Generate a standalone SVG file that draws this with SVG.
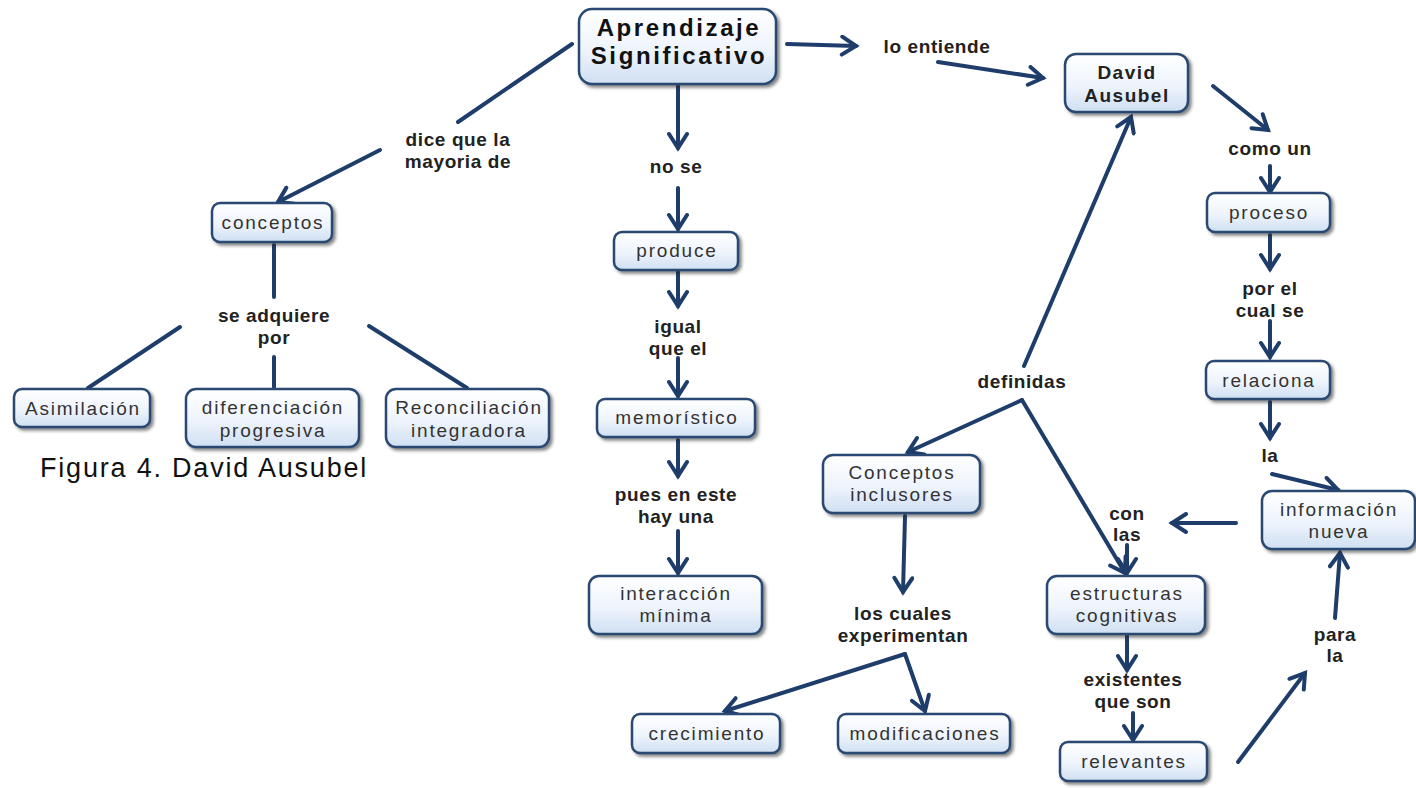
<svg xmlns="http://www.w3.org/2000/svg" width="1416" height="788" viewBox="0 0 1416 788">
  <defs>
    <linearGradient id="nodeFill" x1="0" y1="0" x2="0" y2="1">
      <stop offset="0" stop-color="#ffffff"/>
      <stop offset="0.55" stop-color="#eef4fc"/>
      <stop offset="1" stop-color="#cfdff2"/>
    </linearGradient>
    <filter id="shadow" x="-10%" y="-20%" width="125%" height="150%">
      <feDropShadow dx="2.5" dy="2.5" stdDeviation="1.5" flood-color="#1a1a1a" flood-opacity="0.55"/>
    </filter>
    <marker id="arrow" markerUnits="userSpaceOnUse" markerWidth="22" markerHeight="22" viewBox="0 0 22 22" refX="18" refY="11" orient="auto">
      <path d="M4,2 L18,11 L4,20" fill="none" stroke="#1e3d6b" stroke-width="4" stroke-linejoin="miter" stroke-linecap="round"/>
    </marker>
  </defs>
  <style>
    .node rect { fill: url(#nodeFill); stroke: #2b4a72; stroke-width: 2.5; filter: url(#shadow); }
    .node text { font-family: "Liberation Sans", Arial, sans-serif; font-size: 19px; fill: #333; text-anchor: middle; letter-spacing: 1.8px; }
    .node.main text { font-size: 24px; font-weight: bold; fill: #111; letter-spacing: 2.6px; }
    .node.bold text { font-weight: bold; fill: #222; letter-spacing: 1.5px; }
    .label { font-family: "Liberation Sans", Arial, sans-serif; font-size: 19px; font-weight: bold; fill: #222; text-anchor: middle; letter-spacing: 0.6px; }
    .links path { fill: none; stroke: #1e3d6b; stroke-width: 4; stroke-linecap: round; stroke-linejoin: miter; }
    .links path.arr { marker-end: url(#arrow); }
    .caption { font-family: "Liberation Sans", Arial, sans-serif; font-size: 27px; fill: #111; letter-spacing: 1.8px; }
  </style>

  <rect width="1416" height="788" fill="#ffffff"/>

  <!-- connectors -->
  <g class="links">
    <!-- Aprendizaje Significativo, left branch -->
    <path d="M572,44 L458,122"/>
    <path class="arr" d="M380,150 L278,202"/>
    <!-- conceptos branch -->
    <path d="M274,245 L274,297"/>
    <path d="M274,357 L274,387"/>
    <path d="M180,327 L88,388"/>
    <path d="M369,326 L467,388"/>
    <!-- central column -->
    <path class="arr" d="M678,86 L678,148"/>
    <path class="arr" d="M678,188 L678,229"/>
    <path class="arr" d="M678,272 L678,306"/>
    <path class="arr" d="M678,358 L678,396"/>
    <path class="arr" d="M678,440 L678,476"/>
    <path class="arr" d="M678,531 L678,573"/>
    <!-- towards David Ausubel -->
    <path class="arr" d="M787,44 L856,46"/>
    <path class="arr" d="M938,62 L1043,78"/>
    <!-- right column -->
    <path class="arr" d="M1213,86 L1268,130"/>
    <path class="arr" d="M1270,166 L1270,192"/>
    <path class="arr" d="M1270,235 L1270,269"/>
    <path class="arr" d="M1270,321 L1270,357"/>
    <path class="arr" d="M1270,402 L1270,438"/>
    <path class="arr" d="M1272,474 L1338,490"/>
    <path class="arr" d="M1236,523 L1172,523"/>
    <!-- definidas -->
    <path class="arr" d="M1024,366 L1131,117"/>
    <path class="arr" d="M1022,400 L908,452"/>
    <path class="arr" d="M1022,400 L1125,573"/>
    <path class="arr" d="M1127,545 L1127,573"/>
    <!-- Conceptos inclusores -->
    <path class="arr" d="M905,516 L903,592"/>
    <path class="arr" d="M905,654 L725,711"/>
    <path class="arr" d="M905,654 L925,711"/>
    <!-- estructuras cognitivas -->
    <path class="arr" d="M1127,636 L1127,670"/>
    <path class="arr" d="M1133,713 L1133,740"/>
    <!-- relevantes to información nueva -->
    <path class="arr" d="M1238,762 L1305,673"/>
    <path class="arr" d="M1335,618 L1340,553"/>
  </g>

  <!-- linking phrases -->
  <g id="labels">
    <text class="label" x="458" y="146">dice que  la</text>
    <text class="label" x="458" y="168">mayoria de</text>
    <text class="label" x="274" y="322">se adquiere</text>
    <text class="label" x="274" y="344">por</text>
    <text class="label" x="676" y="173">no se</text>
    <text class="label" x="678" y="333">igual</text>
    <text class="label" x="678" y="355">que el</text>
    <text class="label" x="676" y="501">pues en este</text>
    <text class="label" x="676" y="523">hay una</text>
    <text class="label" x="937" y="53">lo entiende</text>
    <text class="label" x="1270" y="155">como un</text>
    <text class="label" x="1270" y="295">por el</text>
    <text class="label" x="1270" y="317">cual se</text>
    <text class="label" x="1270" y="462">la</text>
    <text class="label" x="1022" y="388">definidas</text>
    <text class="label" x="1127" y="520">con</text>
    <text class="label" x="1127" y="541">las</text>
    <text class="label" x="903" y="620">los cuales</text>
    <text class="label" x="903" y="642">experimentan</text>
    <text class="label" x="1133" y="686">existentes</text>
    <text class="label" x="1133" y="708">que son</text>
    <text class="label" x="1335" y="641">para</text>
    <text class="label" x="1335" y="662">la</text>
  </g>

  <!-- concepts -->
  <g id="aprendizaje" class="node main">
    <rect x="579" y="9" width="197" height="75" rx="13"/>
    <text x="679" y="36">Aprendizaje</text>
    <text x="679" y="64">Significativo</text>
  </g>
  <g id="david-ausubel" class="node bold">
    <rect x="1065" y="54" width="123" height="58" rx="11"/>
    <text x="1127" y="79">David</text>
    <text x="1127" y="102">Ausubel</text>
  </g>
  <g id="conceptos" class="node">
    <rect x="212" y="203" width="120" height="39" rx="8"/>
    <text x="273" y="229">conceptos</text>
  </g>
  <g id="asimilacion" class="node">
    <rect x="14" y="389" width="136" height="38" rx="8"/>
    <text x="83" y="415">Asimilación</text>
  </g>
  <g id="diferenciacion" class="node">
    <rect x="186" y="389" width="173" height="58" rx="10"/>
    <text x="273" y="414">diferenciación</text>
    <text x="273" y="437">progresiva</text>
  </g>
  <g id="reconciliacion" class="node">
    <rect x="386" y="389" width="163" height="58" rx="10"/>
    <text x="469" y="414">Reconciliación</text>
    <text x="469" y="437">integradora</text>
  </g>
  <g id="produce" class="node">
    <rect x="614" y="232" width="124" height="38" rx="8"/>
    <text x="677" y="257">produce</text>
  </g>
  <g id="memoristico" class="node">
    <rect x="597" y="399" width="158" height="38" rx="8"/>
    <text x="677" y="424">memorístico</text>
  </g>
  <g id="interaccion" class="node">
    <rect x="589" y="576" width="173" height="58" rx="10"/>
    <text x="676" y="600">interacción</text>
    <text x="676" y="622">mínima</text>
  </g>
  <g id="conceptos-inclusores" class="node">
    <rect x="823" y="455" width="157" height="58" rx="10"/>
    <text x="902" y="479">Conceptos</text>
    <text x="902" y="501">inclusores</text>
  </g>
  <g id="crecimiento" class="node">
    <rect x="632" y="714" width="148" height="39" rx="8"/>
    <text x="707" y="740">crecimiento</text>
  </g>
  <g id="modificaciones" class="node">
    <rect x="838" y="714" width="172" height="39" rx="8"/>
    <text x="925" y="740">modificaciones</text>
  </g>
  <g id="estructuras" class="node">
    <rect x="1047" y="576" width="158" height="58" rx="10"/>
    <text x="1127" y="600">estructuras</text>
    <text x="1127" y="622">cognitivas</text>
  </g>
  <g id="relevantes" class="node">
    <rect x="1060" y="742" width="147" height="39" rx="8"/>
    <text x="1134" y="768">relevantes</text>
  </g>
  <g id="proceso" class="node">
    <rect x="1207" y="193" width="123" height="39" rx="8"/>
    <text x="1269" y="219">proceso</text>
  </g>
  <g id="relaciona" class="node">
    <rect x="1206" y="361" width="124" height="38" rx="8"/>
    <text x="1269" y="387">relaciona</text>
  </g>
  <g id="informacion-nueva" class="node">
    <rect x="1262" y="491" width="153" height="58" rx="10"/>
    <text x="1339" y="516">información</text>
    <text x="1339" y="538">nueva</text>
  </g>

  <text class="caption" x="40" y="477">Figura 4. David Ausubel</text>
</svg>
